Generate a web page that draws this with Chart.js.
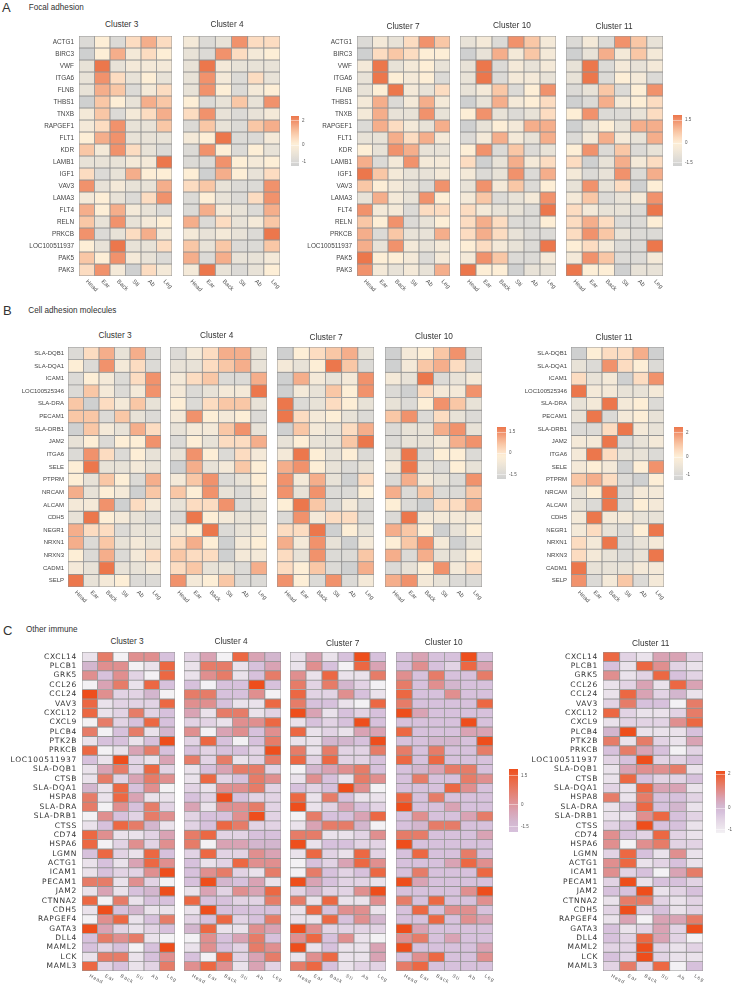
<!DOCTYPE html>
<html><head><meta charset="utf-8">
<script src="https://cdn.jsdelivr.net/npm/chart.js@4"></script>
<style>
html,body{margin:0;padding:0;background:#fff;width:734px;height:986px;overflow:hidden}
#page{position:relative;width:734px;height:986px}
canvas{position:absolute}
.t{position:absolute;white-space:nowrap;font-family:"Liberation Sans",Arial,sans-serif;color:#333;transform:translate(-50%,-50%)}
.s{position:absolute;white-space:nowrap;font-family:"Liberation Sans",Arial,sans-serif;color:#333;transform:translateY(-50%)}
</style></head><body><div id="page"></div>
<script>
const columns=["Head","Ear","Back","Sti","Ab","Leg"];
const focalGenes=["ACTG1","BIRC3","VWF","ITGA6","FLNB","THBS1","TNXB","RAPGEF1","FLT1","KDR","LAMB1","IGF1","VAV3","LAMA3","FLT4","RELN","PRKCB","LOC100511937","PAK5","PAK3"];
const cellGenes=["SLA-DQB1","SLA-DQA1","ICAM1","LOC100525346","SLA-DRA","PECAM1","SLA-DRB1","JAM2","ITGA6","SELE","PTPRM","NRCAM","ALCAM","CDH5","NEGR1","NRXN1","NRXN3","CADM1","SELP"];
const immuneGenes=["CXCL14","PLCB1","GRK5","CCL26","CCL24","VAV3","CXCL12","CXCL9","PLCB4","PTK2B","PRKCB","LOC100511937","SLA-DQB1","CTSB","SLA-DQA1","HSPA8","SLA-DRA","SLA-DRB1","CTSS","CD74","HSPA6","LGMN","ACTG1","ICAM1","PECAM1","JAM2","CTNNA2","CDH5","RAPGEF4","GATA3","DLL4","MAML2","LCK","MAML3"];
// heat levels 0 (lowest) .. 9 (highest), rows = genes, columns = body sites
const focal3=[[1,4,1,5,7,5],[0,4,7,3,5,4],[2,9,2,3,3,3],[2,8,5,2,4,2],[2,7,6,1,3,5],[0,6,4,2,7,6],[3,6,1,3,5,7],[3,5,8,2,2,6],[4,7,8,2,2,2],[6,3,8,5,2,1],[2,2,2,3,3,9],[5,1,2,7,4,4],[8,2,3,2,2,7],[3,4,2,1,5,8],[7,4,7,3,2,1],[6,2,8,2,3,4],[8,1,2,5,7,3],[4,2,9,2,2,5],[6,4,8,3,2,1],[5,8,3,0,5,3]];
const focal4=[[3,1,2,8,5,5],[2,1,8,5,3,4],[2,9,3,2,2,2],[2,8,3,1,5,2],[2,8,4,1,3,4],[4,1,2,6,2,8],[5,8,2,1,2,3],[1,6,2,1,6,7],[3,4,9,1,1,3],[1,8,4,1,4,2],[1,1,8,4,3,4],[4,0,7,4,2,5],[5,6,2,1,1,8],[1,4,2,1,5,8],[1,7,3,2,1,7],[7,1,5,2,3,6],[3,2,3,2,1,9],[6,2,6,1,1,6],[7,1,7,2,2,3],[3,9,2,1,2,4]];
const focal7=[[1,3,2,5,8,6],[0,5,6,5,4,4],[3,9,2,3,4,2],[2,9,4,3,4,1],[2,4,9,3,2,5],[3,7,1,3,7,3],[3,7,2,2,8,2],[1,7,5,3,2,7],[2,2,7,5,7,3],[4,2,8,7,2,2],[7,1,3,8,3,3],[9,6,3,2,2,3],[6,4,3,2,1,8],[2,7,3,2,8,4],[8,3,3,1,5,5],[6,4,8,1,2,4],[7,1,6,2,2,7],[7,2,8,3,2,3],[9,4,4,3,1,3],[8,3,2,3,2,7]];
const focal10=[[2,3,1,8,6,3],[0,2,7,3,6,3],[2,9,1,3,2,3],[2,9,1,3,3,2],[2,3,6,1,4,8],[0,2,7,3,4,5],[4,8,2,1,2,5],[0,2,4,3,7,7],[1,3,7,3,2,7],[4,8,1,6,1,2],[5,0,2,7,3,5],[3,1,2,8,1,7],[2,8,3,6,1,4],[3,6,1,2,3,8],[5,3,2,2,1,9],[5,7,5,1,1,4],[5,7,5,2,1,1],[4,5,3,2,1,9],[3,8,6,1,1,3],[9,4,4,0,2,2]];
const focal11=[[1,3,1,8,6,2],[0,2,7,3,6,3],[2,9,1,3,2,3],[2,9,1,4,3,1],[1,2,6,1,4,8],[0,1,7,3,4,5],[4,8,1,1,2,5],[0,2,4,2,7,7],[1,3,7,3,2,7],[4,8,1,6,1,2],[5,0,2,7,3,5],[3,1,2,8,1,7],[2,8,2,5,0,4],[3,6,1,2,3,8],[5,3,2,2,1,9],[5,7,5,1,1,4],[5,8,6,2,1,1],[4,5,3,1,1,9],[3,8,6,1,1,3],[9,4,4,0,2,2]];
const cell3=[[1,5,7,2,7,1],[4,1,8,3,5,1],[1,4,3,1,5,8],[1,6,3,1,3,8],[6,0,5,3,6,2],[6,6,1,6,2,1],[0,6,3,2,7,5],[2,4,1,4,4,8],[1,8,5,1,4,2],[4,9,2,2,3,2],[4,2,6,4,1,7],[7,2,4,3,0,6],[3,3,8,0,5,3],[2,9,4,3,2,1],[7,5,5,1,2,2],[7,1,6,2,3,2],[4,1,7,1,3,5],[3,2,9,2,2,3],[9,2,3,4,1,1]];
const cell4=[[1,3,5,7,7,2],[2,2,5,6,7,2],[3,5,6,1,1,7],[3,1,2,3,3,9],[4,1,5,6,6,2],[3,8,4,3,4,1],[2,3,3,6,8,2],[1,4,2,5,5,7],[2,8,4,1,5,3],[0,7,2,3,6,4],[3,6,8,1,2,4],[6,4,8,2,1,3],[2,5,5,8,1,2],[1,9,4,3,2,2],[3,4,9,1,2,3],[5,7,4,0,3,4],[6,5,5,0,3,3],[5,6,2,2,1,7],[8,3,4,6,1,1]];
const cell7=[[0,4,5,6,7,2],[3,2,4,9,6,1],[0,7,3,2,3,8],[0,3,2,6,4,8],[9,1,2,5,4,2],[9,5,3,4,2,1],[0,6,3,2,5,7],[2,4,2,2,6,9],[3,9,4,2,4,1],[7,8,4,2,1,2],[8,3,7,2,0,5],[8,2,8,1,1,4],[4,9,6,1,3,1],[1,8,3,5,5,1],[5,5,9,0,4,2],[7,3,8,2,0,3],[5,2,8,1,1,6],[5,4,6,1,0,7],[8,4,1,8,1,3]];
const cell10=[[0,3,4,6,8,1],[0,3,6,7,5,1],[3,2,9,1,2,3],[1,0,5,3,3,8],[2,1,4,8,6,2],[6,8,1,5,2,1],[1,2,2,7,8,2],[1,2,2,3,7,8],[2,9,1,4,4,1],[3,9,2,1,4,2],[1,7,3,2,1,8],[7,1,6,1,1,6],[4,1,0,5,5,7],[1,9,3,3,3,3],[7,6,4,0,2,4],[4,6,8,3,0,2],[7,1,7,2,2,4],[1,2,4,8,3,5],[7,8,3,2,1,1]];
const cell11=[[0,4,5,5,7,0],[2,1,8,5,4,1],[5,2,3,0,5,8],[9,3,3,2,2,3],[2,3,9,3,4,1],[2,9,1,3,4,2],[1,1,5,9,3,2],[3,3,9,1,2,3],[3,9,5,2,2,1],[3,4,3,0,4,8],[6,7,5,1,0,4],[2,4,9,1,3,3],[2,1,9,1,4,3],[3,9,3,3,2,2],[3,5,2,1,4,9],[5,3,9,1,2,3],[5,3,2,1,2,9],[9,2,2,2,3,3],[8,1,3,6,1,3]];
const immune3=[[1,7,0,6,6,3],[4,6,6,0,1,8],[6,3,6,2,0,8],[0,5,7,1,8,3],[9,6,2,2,4,0],[8,1,2,2,2,8],[8,1,2,7,2,3],[0,7,2,3,8,3],[7,0,3,7,1,4],[1,3,3,1,3,9],[8,0,1,5,7,3],[3,1,9,2,1,5],[1,5,7,2,8,2],[1,7,2,5,7,6],[4,1,8,3,6,0],[7,1,8,5,1,1],[7,0,6,3,7,2],[0,6,3,2,7,6],[1,3,8,7,4,1],[8,6,1,1,2,5],[8,0,2,6,2,6],[3,8,2,1,8,3],[1,3,1,5,8,6],[1,3,2,2,6,9],[7,7,1,6,2,0],[1,5,1,3,4,9],[8,0,7,1,3,3],[1,9,3,4,1,1],[0,6,8,1,3,7],[9,5,2,1,2,3],[3,7,6,7,1,0],[3,2,3,0,3,9],[1,7,7,1,3,6],[8,2,3,1,2,7]];
const immune4=[[2,5,0,8,5,4],[1,7,7,1,3,5],[1,6,7,1,3,7],[3,0,3,3,9,3],[7,7,3,3,6,0],[6,6,3,1,1,8],[5,1,7,7,1,2],[2,2,1,6,6,8],[6,0,5,6,3,6],[2,8,3,0,3,7],[3,2,3,3,2,9],[7,2,7,1,2,7],[1,3,5,7,7,2],[1,8,2,3,7,6],[2,1,6,6,7,2],[3,2,9,3,2,2],[5,1,6,6,7,2],[2,3,3,6,9,2],[2,3,8,7,2,2],[7,8,2,2,3,3],[7,0,5,5,4,4],[2,8,2,2,6,5],[3,1,2,8,6,6],[3,6,7,2,1,7],[3,9,4,3,5,1],[1,5,2,6,5,8],[8,3,3,2,2,7],[1,9,3,3,3,3],[2,3,8,2,3,7],[4,8,1,1,6,5],[0,6,3,5,7,3],[1,6,3,2,7,6],[3,0,8,2,5,7],[6,8,6,1,5,2]];
const immune7=[[1,5,1,3,9,3],[1,6,3,0,8,5],[6,1,8,1,1,7],[7,2,7,4,2,0],[8,2,2,6,3,1],[7,3,3,1,0,8],[9,5,1,3,2,3],[1,3,2,3,9,3],[8,1,2,1,5,5],[1,1,4,4,3,9],[7,1,7,2,2,7],[8,2,8,2,2,3],[0,4,5,6,7,3],[1,6,3,1,7,6],[3,2,3,9,6,0],[8,1,7,3,1,1],[9,1,2,5,3,2],[0,7,3,3,5,8],[1,5,7,7,4,0],[7,7,1,1,2,6],[9,1,3,3,2,2],[1,8,2,1,8,2],[0,3,2,5,8,6],[0,7,3,2,3,8],[9,5,3,2,2,1],[2,4,2,2,6,9],[7,1,8,1,1,6],[1,8,3,6,6,1],[1,1,8,3,6,4],[9,6,2,2,2,2],[6,8,3,6,1,0],[9,1,3,1,1,5],[1,6,8,1,1,5],[7,8,3,1,2,2]];
const immune10=[[3,5,3,3,9,3],[3,6,3,2,8,5],[6,3,7,3,3,7],[7,3,6,4,3,3],[8,3,3,6,3,3],[7,3,3,3,3,8],[9,5,3,3,3,3],[3,3,3,3,9,3],[8,3,3,3,5,5],[3,3,4,4,3,9],[7,3,7,3,3,7],[8,3,8,3,3,3],[3,4,5,7,7,3],[3,7,3,3,7,6],[3,3,3,8,6,3],[8,3,7,3,3,3],[9,3,3,5,3,3],[3,6,3,3,5,7],[3,4,7,7,3,3],[7,7,3,3,3,5],[9,3,3,3,3,3],[3,8,3,3,7,3],[3,3,3,5,8,6],[3,7,3,3,3,8],[9,5,3,3,3,3],[3,3,3,3,6,9],[7,3,8,3,3,6],[3,8,3,6,6,3],[3,3,8,3,6,5],[9,5,3,3,3,3],[6,7,3,5,3,3],[9,3,3,3,3,5],[3,6,8,3,3,6],[7,8,3,3,3,3]];
const immune11=[[8,2,1,5,5,2],[3,1,8,6,2,1],[6,1,2,8,3,2],[1,2,5,1,8,5],[1,8,5,2,4,1],[2,7,3,3,0,7],[8,2,1,1,2,7],[1,2,2,2,6,8],[4,9,1,1,1,3],[7,1,7,2,1,5],[3,7,5,3,0,2],[2,3,9,2,2,3],[1,5,6,6,7,1],[1,8,3,2,2,3],[2,1,8,5,5,1],[7,1,7,3,3,2],[1,3,8,3,4,1],[1,1,6,8,3,2],[2,3,9,3,3,1],[6,3,2,8,2,1],[6,0,6,7,2,2],[2,8,3,1,6,1],[6,8,1,2,3,1],[6,2,3,0,5,7],[2,9,1,3,3,2],[3,3,9,1,2,3],[1,7,7,2,1,2],[2,9,2,3,1,2],[1,5,0,5,5,7],[3,1,2,5,2,9],[3,2,8,5,2,0],[2,2,9,2,1,2],[3,2,9,2,1,1],[2,7,2,8,0,3]];

const warm=["#cfd0d0","#dcdad6","#e8e2d7","#f4e9d8","#fdeed6","#fcdcc1","#f9c7a6","#f5ae8b","#f1926c","#ec774c"];
const cool=["#f3f1f4","#eae2eb","#e2d3e4","#d7c1dc","#d3b6ce","#d9a3b4","#e08f8f","#e67c68","#ec6843","#ee4e1c"];
const page=document.getElementById("page");
const SANS='"Liberation Sans",Arial,sans-serif';

function text(cls,str,x,y,size){const d=document.createElement("div");d.className=cls;d.textContent=str;d.style.left=x+"px";d.style.top=y+"px";d.style.fontSize=size+"px";page.appendChild(d);}
function canvas(x,y,w,h){const c=document.createElement("canvas");c.width=w;c.height=h;c.style.left=x+"px";c.style.top=y+"px";c.style.width=w+"px";c.style.height=h+"px";page.appendChild(c);return c;}

function heatmap(g,values,L,R,labelled){
  const LW=labelled?g.lw:14,BH=g.bh,PT=4,PR=14,w=R-L,h=g.b-g.t;
  const c=canvas(L-LW,g.t-PT,LW+w+PR,PT+h+BH);
  const datasets=g.genes.map((gene,i)=>({label:gene,data:values[i].map(()=>1),
    backgroundColor:values[i].map(v=>g.pal[v]),borderColor:"#949494",borderWidth:0.8,borderSkipped:false,
    barPercentage:1,categoryPercentage:1}));
  new Chart(c,{type:"bar",data:{labels:columns,datasets},
   plugins:[{id:"spacing",beforeDraw(ch){ch.ctx.letterSpacing=g.spacing;}}],
   options:{
    responsive:false,animation:false,devicePixelRatio:1,
    layout:{padding:{top:PT,right:PR,left:0,bottom:0}},
    plugins:{legend:{display:false},tooltip:{enabled:false}},
    scales:{
      x:{stacked:true,grid:{display:false,drawTicks:false},border:{display:false},
        beforeUpdate(s){s._getXAxisLabelAlignment=()=>"left";},
        afterFit(s){s.height=BH;s.paddingLeft=0;s.paddingRight=0;},
        ticks:{autoSkip:false,minRotation:-g.rot,maxRotation:-g.rot,padding:g.xpad,color:"#555",font:{family:SANS,size:g.xfont}}},
      y:{stacked:true,reverse:true,min:0,max:g.genes.length,grid:{display:false,drawTicks:false},border:{display:false},
        afterBuildTicks(s){s.ticks=g.genes.map((_,i)=>({value:i+.5}));},
        afterFit(s){s.width=LW;s.paddingTop=0;s.paddingBottom=0;},
        ticks:{display:labelled,autoSkip:false,padding:g.ypad,color:g.ycolor,font:{family:g.yfamily,size:g.yfont},
          callback:(v,i)=>g.genes[i]}}
    }}});
}

function colorbar(x0,x1,y0,y1,pal,tickPos,tickLabels,fs){
  const LW=18,w=x1-x0,h=y1-y0;
  const c=canvas(x0,y0,w+LW,h);
  new Chart(c,{type:"bar",data:{labels:[""],datasets:[{data:[1],barPercentage:1,categoryPercentage:1,
    backgroundColor(ctx){const a=ctx.chart.chartArea;if(!a)return pal[0];
      const gr=ctx.chart.ctx.createLinearGradient(0,a.bottom,0,a.top);
      pal.forEach((p,i)=>gr.addColorStop(i/(pal.length-1),p));return gr;}}]},
   options:{responsive:false,animation:false,devicePixelRatio:1,
    plugins:{legend:{display:false},tooltip:{enabled:false}},
    scales:{x:{display:false},
      y:{position:"right",min:0,max:1,border:{display:false},
        grid:{color:"rgba(255,255,255,.75)",lineWidth:.6,z:1,drawTicks:false},
        afterBuildTicks(s){s.ticks=tickPos.map(value=>({value}));},
        afterFit(s){s.width=LW;s.paddingTop=0;s.paddingBottom=0;},
        ticks:{padding:3,color:"#555",font:{family:SANS,size:fs},autoSkip:false,callback:(v,i)=>tickLabels[i]}}}}});
}

const gA={genes:focalGenes,pal:warm,t:36,b:276,lw:60,bh:26,rot:45,xfont:6,xpad:2,ypad:5,yfont:6.4,yfamily:SANS,ycolor:"#444",spacing:"0px"};
const gB={genes:cellGenes,pal:warm,t:347,b:587,lw:60,bh:26,rot:45,xfont:6,xpad:2,ypad:4,yfont:6,yfamily:SANS,ycolor:"#444",spacing:"0px"};
const gC={genes:immuneGenes,pal:cool,t:652,b:971,lw:78,bh:15,rot:28,xfont:5,xpad:2,ypad:5,yfont:7.5,yfamily:'"DejaVu Sans",sans-serif',ycolor:"#333",spacing:"0.7px"};

heatmap(gA,focal3,79,172,true);heatmap(gA,focal4,183,280,false);heatmap(gA,focal7,357,450,true);heatmap(gA,focal10,460,556,false);heatmap(gA,focal11,566,663,false);
heatmap(gB,cell3,68,161,true);heatmap(gB,cell4,170,267,false);heatmap(gB,cell7,277,374,false);heatmap(gB,cell10,385,482,false);heatmap(gB,cell11,571,664,true);
heatmap(gC,immune3,82,175,true);heatmap(gC,immune4,184,281,false);heatmap(gC,immune7,290,386,false);heatmap(gC,immune10,396,493,false);heatmap(gC,immune11,603,703,true);

colorbar(291,299,116,166,warm,[.9,.42,.08],["2","0","-1"],4.5);
colorbar(673,682,115,166,warm,[.9,.45,.06],["1.5","0","-1.5"],4.5);
colorbar(497,506,427,479,warm,[.9,.5,.08],["1.5","0","-1.5"],4.5);
colorbar(674,683,427,480,warm,[.9,.43,.09],["2","0","-1"],4.5);
colorbar(509,518,769,832,cool.slice(3),[.89,.44,.08],["1.5","0","-1.5"],4.5);
colorbar(716,725,771,833,cool,[.95,.4,.06],["2","0","-1"],4.5);

[["A",2,7],["B",3,310],["C",3,630]].forEach(a=>text("s",a[0],a[1],a[2],13));
text("s","Focal adhesion",28.7,7,8.15);text("s","Cell adhesion molecules",28.3,310,8.15);text("s","Other immune",26,629,8.15);
[["Cluster 3",121.7,24],["Cluster 4",227,24],["Cluster 7",403,26],["Cluster 10",512,25],["Cluster 11",614,25.5],
 ["Cluster 3",115,335],["Cluster 4",216.7,335],["Cluster 7",326,337],["Cluster 10",434,336],["Cluster 11",614,337],
 ["Cluster 3",127,641],["Cluster 4",231,641],["Cluster 7",342.7,643],["Cluster 10",443.7,642],["Cluster 11",650.7,643]]
 .forEach(a=>text("t",a[0],a[1],a[2],8.3));
</script></body></html>
